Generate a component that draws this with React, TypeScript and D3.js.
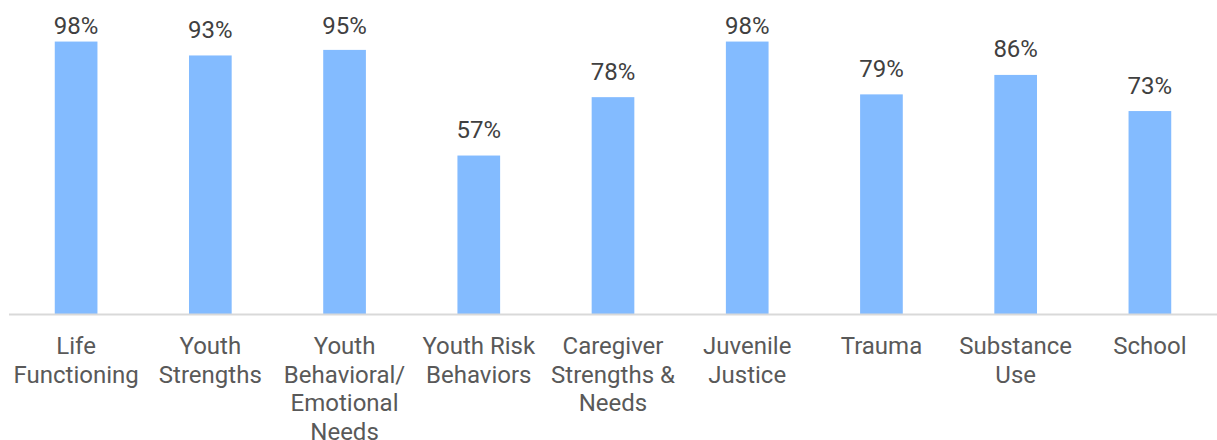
import { useRef, useEffect } from 'react';
import * as d3 from 'd3';

const categories = [
  'Life\nFunctioning',
  'Youth\nStrengths',
  'Youth\nBehavioral/\nEmotional\nNeeds',
  'Youth Risk\nBehaviors',
  'Caregiver\nStrengths &\nNeeds',
  'Juvenile\nJustice',
  'Trauma',
  'Substance\nUse',
  'School',
];
const values = [98, 93, 95, 57, 78, 98, 79, 86, 73];

const width = 1217;
const height = 440;
const margin = { top: 36, right: 0, bottom: 126, left: 9 };

const Chart = () => {
  const svgRef = useRef(null);

  useEffect(() => {
    const svg = d3.select(svgRef.current);
    svg.selectAll('*').remove();

    const innerWidth = width - margin.left - margin.right;
    const innerHeight = height - margin.top - margin.bottom;

    const g = svg
      .append('g')
      .attr('transform', `translate(${margin.left}, ${margin.top})`);

    const xScale = d3
      .scaleBand<number>()
      .domain(d3.range(categories.length))
      .range([0, innerWidth])
      .padding(0);

    const yScale = d3.scaleLinear().domain([0, 100]).range([innerHeight, 0]);

    const barWidth = xScale.bandwidth() * 0.318;
    const font = 'Roboto, sans-serif';

    // bars
    g.selectAll('rect.bar')
      .data(values)
      .join('rect')
      .attr('class', 'bar')
      .attr('x', (_, i) => (xScale(i) as number) + (xScale.bandwidth() - barWidth) / 2)
      .attr('y', (d) => yScale(d))
      .attr('width', barWidth)
      .attr('height', (d) => innerHeight - yScale(d))
      .attr('fill', '#83bbff');

    // value labels (kept inside the top edge)
    g.selectAll('text.value')
      .data(values)
      .join('text')
      .attr('class', 'value')
      .attr('x', (_, i) => (xScale(i) as number) + xScale.bandwidth() / 2)
      .attr('y', (d) => Math.max(yScale(d) - 17.5, -2))
      .attr('text-anchor', 'middle')
      .attr('font-family', font)
      .attr('font-size', 24)
      .attr('fill', '#404040')
      .text((d) => `${d}%`);

    // baseline
    g.append('line')
      .attr('x1', 0)
      .attr('x2', innerWidth)
      .attr('y1', innerHeight + 0.5)
      .attr('y2', innerHeight + 0.5)
      .attr('stroke', '#d9d9d9')
      .attr('stroke-width', 2);

    // category labels
    const labels = g
      .selectAll('text.cat')
      .data(categories)
      .join('text')
      .attr('class', 'cat')
      .attr('text-anchor', 'middle')
      .attr('font-family', font)
      .attr('font-size', 24)
      .attr('fill', '#595959');

    labels.each(function (d, i) {
      const cx = (xScale(i) as number) + xScale.bandwidth() / 2;
      d3.select(this)
        .selectAll('tspan')
        .data(d.split('\n'))
        .join('tspan')
        .attr('x', cx)
        .attr('y', (_, j) => innerHeight + 40 + j * 28.6)
        .text((t) => t);
    });
  }, []);

  return (
    <svg
      ref={svgRef}
      width={width}
      height={height}
      style={{ position: 'absolute', left: 0, top: 0, background: '#fff' }}
    />
  );
};

export default function App() {
  return <Chart />;
}
